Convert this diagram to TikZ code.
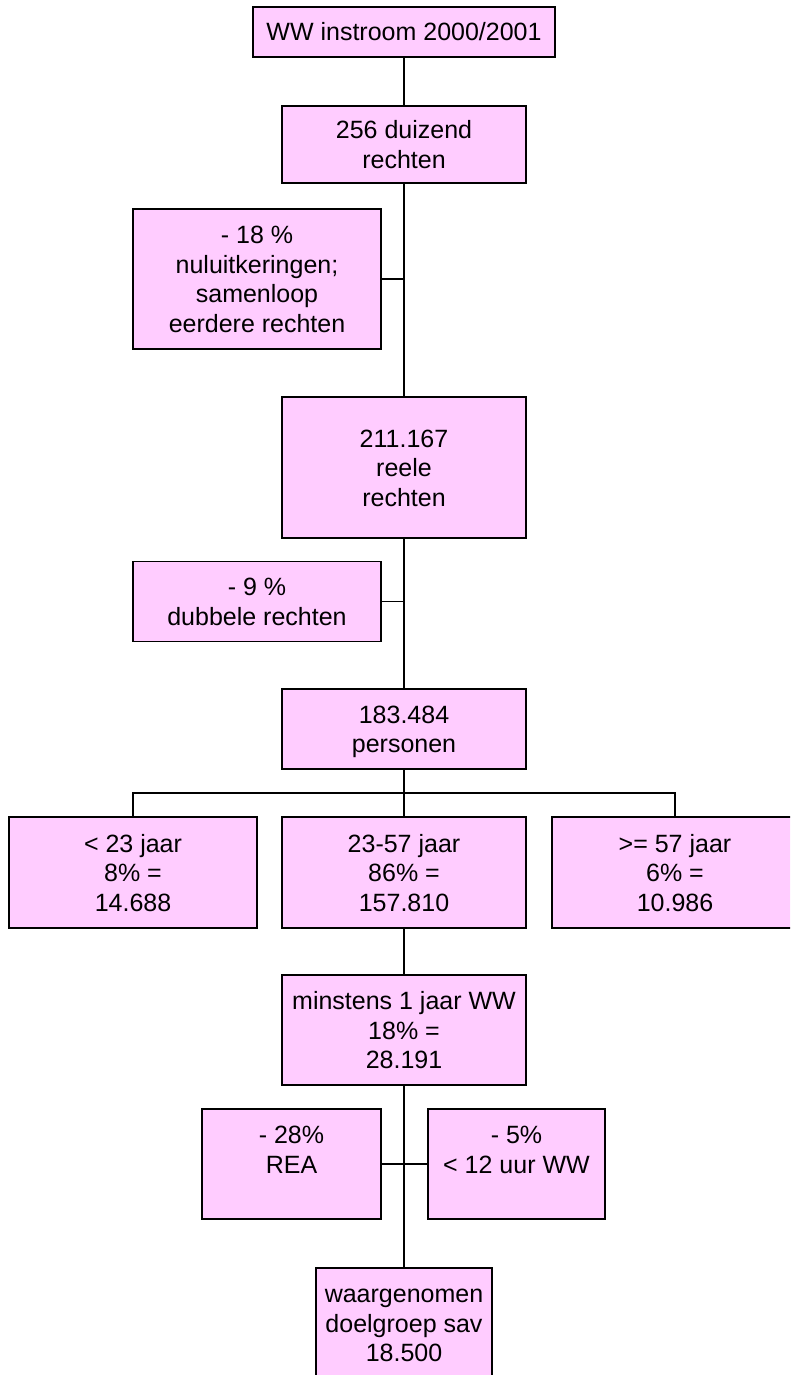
\documentclass[tikz,border=0pt]{standalone}
\usepackage{fontspec}
\setmainfont{Liberation Sans}
\definecolor{boxpink}{RGB}{255,204,255}
\newcommand\ls{\rule[-5.75pt]{0pt}{29.5pt}}
\begin{document}
\begin{tikzpicture}[x=1pt,y=-1pt,
  bx/.style={draw=black, line width=1.6pt, fill=boxpink, align=center, inner sep=0pt,
    font=\fontsize{25}{29.5}\selectfont},
  con/.style={draw=black, line width=1.1pt},
  conthick/.style={draw=black, line width=2.2pt}]
\useasboundingbox (0,0) rectangle (790,1375);
\clip (0,0) rectangle (790,1375);
\fill[white] (0,0) rectangle (790,1375);

\node[bx, minimum width=302pt, minimum height=50pt] (n1) at (404,32) {\ls WW instroom 2000/2001};
\node[bx, minimum width=244pt, minimum height=77pt] (n2) at (404,144.5) {\ls 256 duizend\\\ls rechten};
\node[bx, minimum width=248pt, minimum height=140pt] (n3) at (257,279) {\ls - 18 \%\\\ls nuluitkeringen;\\\ls samenloop\\\ls eerdere rechten};
\node[bx, minimum width=244pt, minimum height=141pt] (n4) at (404,467.5) {\ls 211.167\\\ls reele\\\ls rechten};
\node[bx, minimum width=248pt, minimum height=80pt] (n5) at (257,601.5) {\ls - 9 \%\\\ls dubbele rechten};
\node[bx, minimum width=244pt, minimum height=80pt] (n6) at (404,729) {\ls 183.484\\\ls personen};
\node[bx, minimum width=248pt, minimum height=111pt] (n7) at (133,872.5) {\ls < 23 jaar\\\ls 8\% =\\\ls 14.688};
\node[bx, minimum width=244pt, minimum height=111pt] (n8) at (404,872.5) {\ls 23-57 jaar\\\ls 86\% =\\\ls 157.810};
\node[bx, minimum width=246pt, minimum height=111pt] (n9) at (675,872.5) {\ls >= 57 jaar\\\ls 6\% =\\\ls 10.986};
\node[bx, minimum width=244pt, minimum height=110pt] (n10) at (404,1030) {\ls minstens 1 jaar WW\\\ls 18\% =\\\ls 28.191};
\node[bx, minimum width=179pt, minimum height=110pt] (n11) at (291.5,1164) {\ls - 28\%\\\ls REA\\\ls};
\node[bx, minimum width=177pt, minimum height=110pt] (n12) at (516.5,1164) {\ls - 5\%\\\ls < 12 uur WW\\\ls};
\node[bx, minimum width=176pt, minimum height=110pt] (n13) at (404,1323) {\ls waargenomen\\\ls doelgroep sav\\\ls 18.500};

\coordinate (j1) at (404,279);
\coordinate (j2) at (404,601.5);
\coordinate (bus) at (404,793);
\coordinate (j3) at (404,1164);

\draw[con] (n1.south) -- (n2.north);
\draw[conthick] (n2.south) -- (j1);
\draw[con] (j1) -- (n4.north);
\draw[con] (n3.east) -- (j1);
\draw[conthick] (n4.south) -- (j2);
\draw[con] (j2) -- (n6.north);
\draw[con] (n5.east) -- (j2);
\draw[con] (n6.south) -- (bus);
\draw[con] (n7.north) |- (bus) -| (n9.north);
\draw[con] (bus) -- (n8.north);
\draw[con] (n8.south) -- (n10.north);
\draw[conthick] (n10.south) -- (j3);
\draw[con] (j3) -- (n13.north);
\draw[con] (n11.east) -- (n12.west);
\end{tikzpicture}
\end{document}
